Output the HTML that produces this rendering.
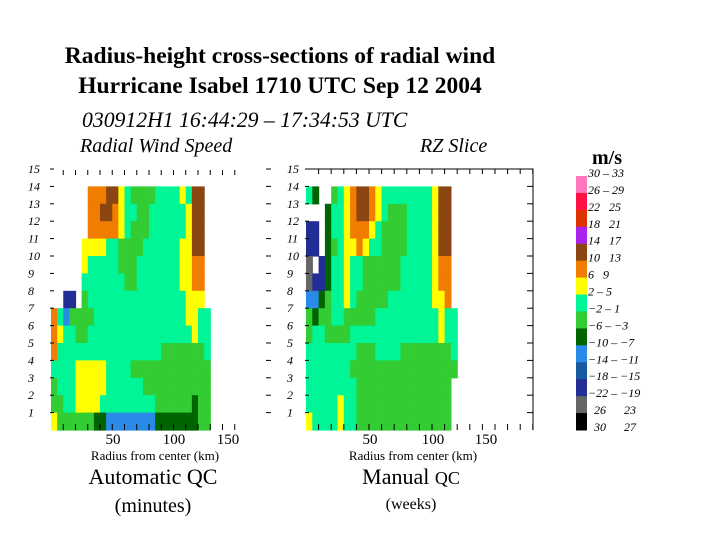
<!DOCTYPE html>
<html><head><meta charset="utf-8"><style>
body{margin:0;background:#fff}
svg{display:block}
text{font-family:"Liberation Serif",serif}
</style></head><body>
<svg id="c" width="720" height="540" xmlns="http://www.w3.org/2000/svg">
<text x="280" y="63" font-size="23.5" font-weight="bold" text-anchor="middle">Radius-height cross-sections of radial wind</text>
<text x="280" y="93" font-size="23.5" font-weight="bold" text-anchor="middle">Hurricane Isabel 1710 UTC Sep 12 2004</text>
<text x="82" y="127" font-size="21.7" font-style="italic">030912H1  16:44:29 – 17:34:53 UTC</text>
<text x="80" y="152" font-size="20" font-style="italic">Radial Wind Speed</text>
<text x="420" y="152" font-size="20" font-style="italic">RZ Slice</text>
<text x="592" y="164" font-size="20" font-weight="bold">m/s</text>
<g id="left"></g>
<g id="right"></g>
<g id="legend"></g>
<text x="113" y="444" font-size="15" text-anchor="middle">50</text>
<text x="174" y="444" font-size="15" text-anchor="middle">100</text>
<text x="228" y="444" font-size="15" text-anchor="middle">150</text>
<text x="155" y="460" font-size="13" text-anchor="middle">Radius from center (km)</text>
<text x="153" y="484" font-size="22" text-anchor="middle">Automatic QC</text>
<text x="153" y="512" font-size="20" text-anchor="middle">(minutes)</text>
<text x="370" y="444" font-size="15" text-anchor="middle">50</text>
<text x="433" y="444" font-size="15" text-anchor="middle">100</text>
<text x="486" y="444" font-size="15" text-anchor="middle">150</text>
<text x="413" y="460" font-size="13" text-anchor="middle">Radius from center (km)</text>
<text x="411" y="484" font-size="22" text-anchor="middle">Manual <tspan font-size="18">QC</tspan></text>
<text x="411" y="509" font-size="16" text-anchor="middle">(weeks)</text>
</svg>
<script>
const colorKeys = {b:'#8b4513',o:'#f07c00',y:'#ffff00',m:'#00f596',g:'#33cc33',d:'#006400',l:'#2a8ae8',s:'#175aa0',n:'#232d96',r:'#666666'};
const leftRows = [
"......ooobbymggggmmmmymbb.",
"......oobboymmggmmmmmmybb.",
"......oooooymgggmmmmmmybb.",
".....yyyymmggggmmmmmmyybb.",
".....ymmmmmgggmmmmmmmyyoo.",
".....mmmmmmmggmmmmmmmyyoo.",
"..nn.gmmmmmmmmmmmmmmmmyyy.",
"omlggggmmmmmmmmmmmmmmmyymm",
"oymmggmmmmmmmmmmmmmmmmmymm",
"ommmmmmmmmmmmmmmmmgggggggm",
"mmmmyyyyymmmmggggggggggggg",
"gmmmyyyyymmmmmmggggggggggg",
"ggmmyyyymmmmmmmmmggggggdgg",
"yggggggddlllllllldddddddgg"
];
const rightRows = [
"md..gmyobboymmmmmmmmybb.",
"...dmmyobboymgggmmmmybb.",
"nn.dmmyoooymggggmmmmybb.",
"nn.dgmyyoymmggggmmmmybb.",
"r.ndmmymmggggggmmmmmyoo.",
"rnndmmymmggggggmmmmmyoo.",
"lldgmmymgggggmmmmmmmyyo.",
"gdggmmgggggmmmmmmmmmmymm",
"gmmggggmmmmmmmmmmmmmmymm",
"mmmmmmmmgggmmmmggggggggm",
"mmmmmmmggggggggggggggggg",
"mmmmmmmmggggggggggggggg.",
"mmmmmymmggggggggggggggg.",
"ymmmmymmggggggggggggggg."
];
const topHeight = 14, binKm = 5;
const yTicks = [15,14,13,12,11,10,9,8,7,6,5,4,3,2,1];
const legendLabels = ["30 – 33","26 – 29","22   25","18   21","14   17","10   13","6   9","2 – 5","−2 – 1","−6 – −3","−10 – −7","−14 – −11","−18 – −15","−22 – −19","  26      23","  30      27"];
const legendColors = ['#ff77bb','#ff1144','#dd3300','#aa22ee','#8b4513','#f07c00','#ffff00','#00f596','#33cc33','#006400','#2a8ae8','#175aa0','#232d96','#666666','#000000'];

const NS='http://www.w3.org/2000/svg';
const yS = h => 430 - h*17.4;
const xL = r => 51 + r*1.225;
const xR = r => 306 + r*1.26;
function mk(tag, attrs, parent){const e=document.createElementNS(NS,tag);for(const k in attrs)e.setAttribute(k,attrs[k]);parent.appendChild(e);return e;}

function drawGrid(rows, xs, g){
  rows.forEach((row,i)=>{
    const hTop = topHeight - i;
    for(let c=0;c<row.length;c++){
      const k=row[c]; if(!colorKeys[k]) continue;
      const x0=xs(c*binKm), x1=xs((c+1)*binKm);
      const r=mk('rect',{x:x0,y:yS(hTop),width:x1-x0+0.6,height:yS(hTop-1)-yS(hTop)+0.6,fill:colorKeys[k]},g);
      
      
    }
  });
}
const L=document.getElementById('left'), R=document.getElementById('right');
drawGrid(leftRows, xL, L);
drawGrid(rightRows, xR, R);

function axisLabels(x, g, side){
  yTicks.forEach(h=>{
    const t=mk('text',{x:x,y:yS(h)+4,'font-size':12,'font-style':'italic'},g);
    t.textContent=h;
    
    
  });
}
axisLabels(28, L, 'left');
axisLabels(287, R, 'right');
yTicks.forEach(h=>{
  const t=mk('line',{x1:266,x2:271,y1:yS(h),y2:yS(h),stroke:'#000'},L);
  
  
  const u=mk('line',{x1:50,x2:54,y1:yS(h),y2:yS(h),stroke:'#000'},L);
  
  
});
for(let r=10;r<=150;r+=10){
  const t=mk('line',{x1:xL(r),x2:xL(r),y1:170,y2:175,stroke:'#000'},L);
  
  
  const u=mk('line',{x1:xL(r),x2:xL(r),y1:424,y2:430,stroke:'#000'},L);
  
  
}
const fr=mk('path',{d:'M305,169 H533 V430',fill:'none',stroke:'#000','stroke-width':1},R);


yTicks.forEach(h=>{
  const t=mk('line',{x1:527,x2:533,y1:yS(h),y2:yS(h),stroke:'#000'},R);
  
  
  const u=mk('line',{x1:305,x2:309,y1:yS(h),y2:yS(h),stroke:'#000'},R);
  
  
});
for(let r=10;r<=180;r+=10){
  const t=mk('line',{x1:xR(r),x2:xR(r),y1:169,y2:174,stroke:'#000'},R);
  
  
  const u=mk('line',{x1:xR(r),x2:xR(r),y1:424,y2:430,stroke:'#000'},R);
  
  
}
const G=document.getElementById('legend');
const lgTop=176, lgStep=(430-176)/legendColors.length;
legendColors.forEach((c,i)=>{
  const r=mk('rect',{x:576,y:lgTop+i*lgStep,width:11,height:lgStep+0.5,fill:c},G);
  
  
});
legendLabels.forEach((s,i)=>{
  const t=mk('text',{x:588,y:lgTop+i*lgStep+1,'font-size':12,'font-style':'italic'},G);
  t.setAttribute('style','white-space:pre');
  t.textContent=s;
  
  
});
</script>
</body></html>
